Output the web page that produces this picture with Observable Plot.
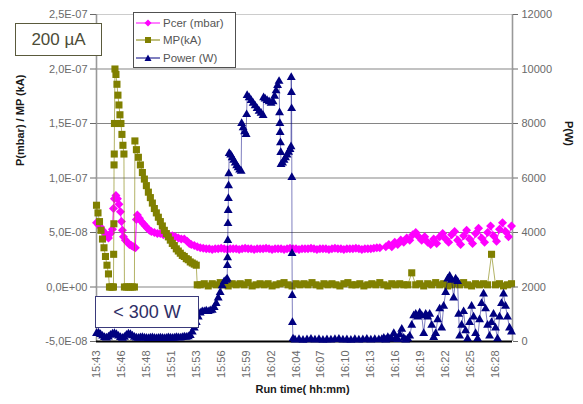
<!DOCTYPE html>
<html><head><meta charset="utf-8">
<script src="https://cdn.jsdelivr.net/npm/d3@7"></script>
<script src="https://cdn.jsdelivr.net/npm/@observablehq/plot@0.6"></script>
<style>
body{margin:0;background:#fff;font-family:"Liberation Sans",Arial,sans-serif;}
#wrap{position:relative;width:583px;height:404px;overflow:hidden;background:#fff}
#wrap svg.chart{position:absolute;left:0;top:0}
.box{position:absolute;background:#fff;box-sizing:border-box;display:flex;align-items:center;justify-content:center}
#legend{position:absolute;left:133px;top:12px;width:103px;height:56px;background:#fff;border:1px solid #505050;box-sizing:border-box;padding-top:1px}
#legend .row{display:flex;align-items:center;height:17.5px;font-size:11.5px;color:#555}
#legend svg{margin-left:2px;margin-right:3px}
</style></head><body><div id="wrap"></div>
<script>
// ---------- tick labels ----------
const leftTicks = [-5e-8, 0, 5e-8, 1e-7, 1.5e-7, 2e-7, 2.5e-7];
const rightTicks = [0, 2000, 4000, 6000, 8000, 10000, 12000];
const xTicks = [0, 2.5, 5, 7.5, 10, 12.5, 15, 17.5, 20, 22.5, 25, 27.5, 30, 32.5, 35, 37.5, 40];
const xTickLabels = ["15:43","15:46","15:48","15:51","15:53","15:56","15:59","16:02","16:04","16:07","16:10","16:13","16:16","16:19","16:22","16:25","16:28"];
const seriesNames = ["Pcer (mbar)", "MP(kA)", "Power (W)"];

// ---------- Pcer (mbar), time in minutes after 15:43 ----------
const pcerTime = [0,0.2,0.4,0.6,0.8,1,1.2,1.4,1.6,1.7,1.8,1.95,2.1,2.25,2.4,2.5,2.6,2.7,2.9,3.1,3.3,3.5,3.7,3.9,4,4.1,4.3,4.5,4.7,4.9,5.1,5.3,5.5,5.8,6.1,6.4,6.7,7,7.3,7.6,7.9,8.2,8.5,8.8,9.1,9.3,9.5,9.8,10.1,10.4,10.7,
11,11.3,11.6,11.9,12.2,12.5,12.8,13.1,13.4,13.7,14,14.3,14.6,14.9,15.2,15.5,15.8,16.1,16.4,16.7,17,17.3,17.6,17.9,18.2,18.5,18.8,19.1,19.4,19.7,20,20.3,20.6,20.9,21.2,21.5,21.8,22.1,22.4,22.7,23,23.3,23.6,23.9,24.2,24.5,24.8,25.1,25.4,25.7,26,26.3,26.6,26.9,27.2,27.5,27.8,28.1,28.4,
29,29.3,29.6,29.9,30.2,30.5,30.8,31.1,31.4,31.7,32,32.3,32.6,32.9,33.2,33.5,33.8,34.1,34.4,34.7,35,35.3,35.6,35.9,36.2,36.5,36.8,37.1,37.4,37.7,38,38.3,38.6,38.9,39.2,39.5,39.8,40.1,40.4,40.7,41,41.3,41.6];
const pcerValue = [5.9e-8,5.7e-8,5.5e-8,5.2e-8,5.0e-8,4.7e-8,4.5e-8,4.9e-8,5.3e-8,7.2e-8,8.1e-8,8.4e-8,8.1e-8,7.6e-8,6.9e-8,6.0e-8,5.2e-8,4.6e-8,4.3e-8,4.1e-8,3.9e-8,3.8e-8,3.7e-8,3.6e-8,6.2e-8,6.6e-8,6.3e-8,6.0e-8,5.8e-8,5.6e-8,5.4e-8,5.2e-8,5.1e-8,5.0e-8,4.9e-8,4.9e-8,4.8e-8,4.8e-8,4.7e-8,4.7e-8,4.6e-8,4.5e-8,4.4e-8,4.4e-8,4.2e-8,4.0e-8,3.9e-8,3.8e-8,3.7e-8,3.6e-8,3.55e-8,
3.5e-8,3.5e-8,3.45e-8,3.5e-8,3.5e-8,3.55e-8,3.5e-8,3.45e-8,3.5e-8,3.5e-8,3.5e-8,3.45e-8,3.5e-8,3.55e-8,3.5e-8,3.5e-8,3.45e-8,3.5e-8,3.5e-8,3.5e-8,3.55e-8,3.5e-8,3.45e-8,3.5e-8,3.5e-8,3.5e-8,3.45e-8,3.5e-8,3.55e-8,3.5e-8,3.5e-8,3.45e-8,3.5e-8,3.5e-8,3.5e-8,3.55e-8,3.5e-8,3.45e-8,3.5e-8,3.5e-8,3.5e-8,3.45e-8,3.5e-8,3.55e-8,3.5e-8,3.5e-8,3.45e-8,3.5e-8,3.5e-8,3.5e-8,3.55e-8,3.5e-8,3.45e-8,3.5e-8,3.5e-8,3.5e-8,3.55e-8,3.6e-8,3.6e-8,
3.7e-8,3.9e-8,3.7e-8,4.1e-8,3.9e-8,4.3e-8,4.1e-8,4.5e-8,4.3e-8,4.8e-8,5.0e-8,4.6e-8,4.3e-8,4.6e-8,4.1e-8,3.9e-8,4.4e-8,4.0e-8,4.6e-8,4.9e-8,4.4e-8,4.1e-8,4.8e-8,5.1e-8,4.3e-8,3.9e-8,4.7e-8,5.2e-8,4.4e-8,4.0e-8,4.9e-8,5.4e-8,4.5e-8,4.1e-8,5.0e-8,5.6e-8,4.7e-8,4.2e-8,5.3e-8,5.9e-8,5.1e-8,4.6e-8,5.6e-8];

// ---------- MP (kA) ----------
const mpTime = [0,0.15,0.3,0.45,0.6,0.75,0.9,1.05,1.2,1.3,1.45,1.6,1.7,1.72,1.74,1.76,1.78,1.8,1.85,1.95,2.05,2.15,2.25,2.35,2.45,2.55,2.65,2.75,2.8,3,3.2,3.4,3.6,3.8,3.85,
4,4.2,4.4,4.6,4.8,5,5.2,5.4,5.6,5.8,6,6.2,6.4,6.6,6.8,7,7.2,7.4,7.6,7.8,8,8.2,8.4,8.6,8.8,9,9.2,9.4,9.6,9.8,10,10.1,
10.4,10.8,11.2,11.6,12,12.4,12.8,13.2,13.6,14,14.4,14.8,15.2,15.6,16,16.4,16.8,17.2,17.6,18,18.4,18.8,19.2,19.6,20,20.4,20.8,21.2,21.6,22,22.4,22.8,23.2,23.6,24,24.4,24.8,25.2,25.6,26,26.4,26.8,27.2,27.6,28,28.4,28.8,29.2,29.6,30,30.4,30.8,31.2,31.6,32,32.4,32.8,33.2,33.6,34,34.4,34.8,35.2,35.6,36,36.4,36.8,37.2,37.6,38,38.4,38.8,39.2,39.6,40,40.4,40.8,41.2,41.6];
const mpValue = [7.5e-8,6.8e-8,6.0e-8,5.2e-8,4.4e-8,3.6e-8,2.8e-8,2.0e-8,1.2e-8,0,0,0,0,3.0e-8,5.8e-8,1.12e-7,1.22e-7,1.5e-7,2.0e-7,1.95e-7,1.86e-7,1.76e-7,1.67e-7,1.58e-7,1.5e-7,1.4e-7,1.3e-7,1.22e-7,0,0,0,0,0,0,1.34e-7,
1.26e-7,1.19e-7,1.12e-7,1.05e-7,9.9e-8,9.3e-8,8.7e-8,8.2e-8,7.7e-8,7.2e-8,6.8e-8,6.4e-8,6.0e-8,5.6e-8,5.2e-8,4.9e-8,4.6e-8,4.3e-8,4.0e-8,3.8e-8,3.5e-8,3.3e-8,3.1e-8,2.9e-8,2.8e-8,2.6e-8,2.5e-8,2.3e-8,2.2e-8,2.1e-8,2.0e-8,0.2e-8,
0.2e-8,0.3e-8,0.1e-8,0.3e-8,0.2e-8,0.4e-8,0.2e-8,0.1e-8,0.3e-8,0.2e-8,0.3e-8,0.2e-8,0.4e-8,0.1e-8,0.2e-8,0.3e-8,0.2e-8,0.3e-8,0.1e-8,0.2e-8,0.3e-8,0.4e-8,0.2e-8,0.1e-8,0.3e-8,0.2e-8,0.3e-8,0.2e-8,0.4e-8,0.2e-8,0.1e-8,0.3e-8,0.2e-8,0.3e-8,0.2e-8,0.1e-8,0.3e-8,0.4e-8,0.2e-8,0.2e-8,0.3e-8,0.1e-8,0.2e-8,0.3e-8,0.2e-8,0.4e-8,0.2e-8,0.1e-8,0.3e-8,0.2e-8,0.3e-8,0.2e-8,0.2e-8,1.3e-8,0.2e-8,0.3e-8,0.1e-8,0.3e-8,0.2e-8,0.4e-8,0.2e-8,0.3e-8,0.1e-8,0.2e-8,0.3e-8,0.2e-8,0.4e-8,0.2e-8,0.1e-8,0.3e-8,0.2e-8,0.3e-8,0.2e-8,3.0e-8,0.2e-8,0.3e-8,0.1e-8,0.2e-8,0.3e-8];

// ---------- Power (W) ----------
const powerTime = [0,0.2,0.4,0.6,0.8,1,1.2,1.4,1.6,1.8,2,2.2,2.4,2.6,2.8,3,3.2,3.4,3.6,3.8,4,4.2,4.4,4.6,4.8,5,5.2,5.4,5.6,5.8,6,6.2,6.4,6.6,6.8,7,7.2,7.4,7.6,7.8,8,8.2,8.4,8.6,8.8,9,9.2,9.4,
9.6,9.8,10,10.2,10.4,10.6,10.8,11,11.2,11.4,11.6,11.8,12,12.2,12.4,12.6,12.8,13,13.1,
13.12,13.14,13.16,13.18,13.2,13.22,13.24,13.26,
13.3,13.45,13.6,13.75,13.9,14.05,14.2,14.35,14.5,
14.55,14.7,14.85,15,
15.05,15.1,15.3,15.5,15.7,15.9,16.1,16.3,16.5,16.7,
16.75,16.9,17.1,17.3,17.5,17.7,17.85,18,18.15,18.3,
18.35,18.38,18.41,18.44,18.47,18.5,
18.65,18.8,18.95,19.1,19.25,19.4,19.5,
19.52,19.54,19.56,19.58,19.6,19.62,19.64,19.7,
19.9,20.3,20.7,21.1,21.5,21.9,22.3,22.7,23.1,23.5,23.9,24.3,24.7,25.1,25.5,25.9,26.3,26.7,27.1,27.5,27.9,28.3,
28.6,28.8,29,29.2,29.4,29.6,29.8,30,30.2,30.4,30.6,30.8,31,31.2,31.4,31.6,31.8,32,32.2,32.4,32.6,32.8,33,33.2,33.4,33.6,33.8,34,34.2,34.4,34.6,34.8,35,35.2,35.4,35.6,35.8,36,36.2,36.3,36.4,36.6,36.8,37,37.2,37.4,37.6,37.8,38,38.2,38.4,38.6,38.8,39,39.2,39.4,39.6,39.8,40,40.2,40.4,40.6,40.8,41,41.2,41.4,41.6];
const powerValue = [300,320,260,200,150,130,170,230,280,300,260,200,150,120,160,230,280,260,210,160,130,120,140,150,130,120,110,130,140,120,110,120,130,120,110,120,140,130,120,130,150,140,130,150,170,160,180,220,
350,500,700,900,1050,1100,1100,1120,1100,1130,1150,1250,1400,1600,1800,2050,2200,2250,2300,
2790,3080,3710,4330,4810,5250,5720,6160,
6900,6850,6750,6650,6550,6450,6380,6300,6250,
8000,7850,7700,7600,
8330,9030,8950,8850,8750,8650,8550,8450,8380,8300,
8950,8900,8850,8800,8750,8800,9000,9200,9400,9550,
8400,8000,7670,7300,6940,6500,
6550,6650,6750,6850,6950,7050,7150,
9690,9140,8550,6020,3230,1690,700,100,
60,80,50,70,90,60,80,50,70,60,80,90,60,70,50,80,60,70,90,60,80,70,
80,120,60,150,90,100,300,120,80,250,450,120,60,100,200,600,950,1000,900,1050,950,300,1000,900,1000,600,150,300,800,1200,500,1300,1800,2300,2400,2250,1600,2300,2200,1000,200,600,1100,400,100,700,1300,900,300,100,800,1400,1750,1200,600,200,700,1000,500,100,900,1400,1750,1300,900,500,350];

// ---------- scales ----------
const X_MAX = 41.7;
const Y_MIN = -5e-8, Y_MAX = 2.5e-7;
const W_MAX = 12000;
const toLeft = w => Y_MIN + (w / W_MAX) * (Y_MAX - Y_MIN);

const MAGENTA = "#ff00ff", OLIVE = "#808000", NAVY = "#000080";

const pcer = pcerTime.map((t, i) => ({t, v: pcerValue[i]}));
const mp = mpTime.map((t, i) => ({t, v: mpValue[i]}));
const power = powerTime.map((t, i) => ({t, v: toLeft(powerValue[i])}));

const sciFmt = v => {
  if (v === 0) return "0,0E+00";
  const [m, e] = v.toExponential(1).split("e");
  const n = +e;
  return m.replace(".", ",") + "E" + (n < 0 ? "-" : "+") + String(Math.abs(n)).padStart(2, "0");
};
const rightPos = rightTicks.map(toLeft);
const rightLabel = new Map(rightPos.map((p, i) => [p, String(rightTicks[i])]));
const xLabel = new Map(xTicks.map((t, i) => [t, xTickLabels[i]]));

const excelDiamond = {draw(ctx, size) { const r = Math.sqrt(size / 2); ctx.moveTo(0, -r); ctx.lineTo(r, 0); ctx.lineTo(0, r); ctx.lineTo(-r, 0); ctx.closePath(); }};

const tickColor = "#6a6a6a";
const chart = Plot.plot({
  width: 583, height: 404,
  marginLeft: 96, marginRight: 71, marginTop: 14, marginBottom: 63,
  style: {fontFamily: "'Liberation Sans', Arial, sans-serif", fontSize: "11px", background: "#fff", overflow: "visible"},
  x: {domain: [0, X_MAX]},
  y: {domain: [Y_MIN, Y_MAX]},
  marks: [
    Plot.ruleY(leftTicks.slice(1, -1), {stroke: "#858585", strokeWidth: 1}),
    Plot.ruleY([Y_MAX], {stroke: "#cccccc", strokeWidth: 1}),
    Plot.ruleX([0, X_MAX], {stroke: "#999999", strokeWidth: 1.6}),
    Plot.ruleY([Y_MIN], {stroke: "#000000", strokeWidth: 2.2}),
    Plot.line(pcer, {x: "t", y: "v", stroke: MAGENTA, strokeWidth: 1}),
    Plot.dot(pcer, {x: "t", y: "v", symbol: excelDiamond, r: 3.6, fill: MAGENTA, stroke: "none"}),
    Plot.line(mp, {x: "t", y: "v", stroke: OLIVE, strokeWidth: 1, strokeOpacity: 0.6}),
    Plot.dot(mp, {x: "t", y: "v", symbol: "square", r: 4, fill: OLIVE, stroke: "none"}),
    Plot.line(power, {x: "t", y: "v", stroke: NAVY, strokeWidth: 1, strokeOpacity: 0.5}),
    Plot.dot(power, {x: "t", y: "v", symbol: "triangle", r: 3.3, fill: NAVY, stroke: "none"}),
    Plot.axisY(leftTicks, {anchor: "left", tickFormat: sciFmt, tickSize: 6, tickPadding: 3, color: tickColor, fontSize: 11, label: null}),
    Plot.axisY(rightPos, {anchor: "right", tickFormat: d => rightLabel.get(d), tickSize: 5, tickPadding: 4, color: tickColor, fontSize: 11, label: null}),
    Plot.axisX(xTicks, {anchor: "bottom", tickFormat: d => xLabel.get(d), tickRotate: -90, tickSize: 0, tickPadding: 9, color: tickColor, fontSize: 11, label: null}),
    Plot.text(["P(mbar) / MP (kA)"], {frameAnchor: "left", dx: -76, dy: -12, rotate: -90, fontWeight: "bold", fontSize: 11, fill: "#1a1a1a"}),
    Plot.text(["P(W)"], {frameAnchor: "right", dx: 56, dy: -32, rotate: 90, fontWeight: "bold", fontSize: 11, fill: "#1a1a1a"}),
    Plot.text(["Run time( hh:mm)"], {frameAnchor: "bottom", dy: 51, dx: -2, fontWeight: "bold", fontSize: 11, fill: "#1a1a1a"})
  ]
});
chart.classList.add("chart");
const wrap = document.getElementById("wrap");
wrap.appendChild(chart);

// annotation boxes
const b1 = document.createElement("div");
b1.className = "box";
Object.assign(b1.style, {left: "15px", top: "23px", width: "87px", height: "33px", border: "1px solid #5a5a3c", color: "#4c4c36", fontSize: "17px"});
b1.textContent = "200 µA";
wrap.appendChild(b1);
const b2 = document.createElement("div");
b2.className = "box";
Object.assign(b2.style, {left: "95px", top: "296px", width: "104px", height: "32px", border: "1px solid #3a3a7a", color: "#2e2e66", fontSize: "18px"});
b2.textContent = "< 300 W";
wrap.appendChild(b2);

// legend
const legend = document.createElement("div");
legend.id = "legend";
const markerSvg = (i, color) => {
  const shape = i === 0 ? `<polygon points="12,1.5 15.5,5 12,8.5 8.5,5" fill="${color}"/>`
    : i === 1 ? `<rect x="9" y="2" width="6" height="6" fill="${color}"/>`
    : `<polygon points="12,1.5 15.5,8 8.5,8" fill="${color}"/>`;
  return `<svg width="24" height="10"><line x1="0" x2="24" y1="5" y2="5" stroke="${color}" stroke-width="1"/>${shape}</svg>`;
};
[MAGENTA, OLIVE, NAVY].forEach((c, i) => {
  const row = document.createElement("div");
  row.className = "row";
  row.innerHTML = markerSvg(i, c);
  const span = document.createElement("span");
  span.textContent = seriesNames[i];
  row.appendChild(span);
  legend.appendChild(row);
});
wrap.appendChild(legend);
</script></body></html>
